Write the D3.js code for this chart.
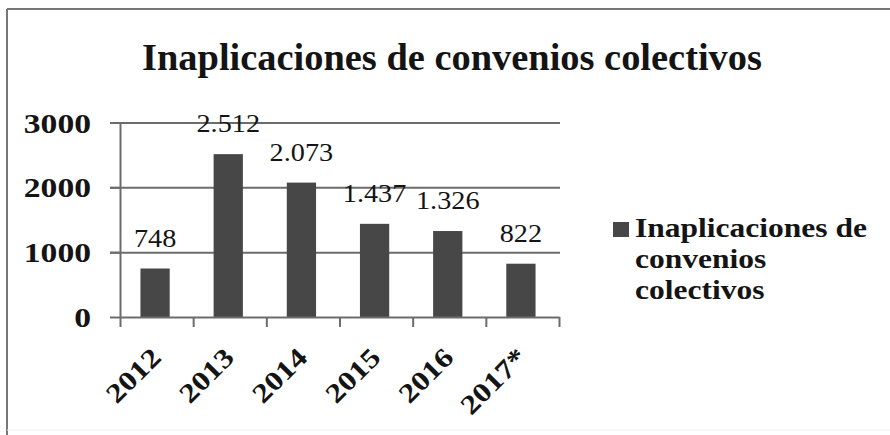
<!DOCTYPE html>
<html>
<head>
<meta charset="utf-8">
<script src="https://cdn.jsdelivr.net/npm/d3@7"></script>
<style>
  html, body { margin: 0; padding: 0; background: #fff; }
  svg { display: block; }
  text { font-family: "Liberation Serif", "Times New Roman", serif; fill: #141414; }
</style>
</head>
<body>
<svg id="chart" width="890" height="435"></svg>
<script>
// Chart data
const title = "Inaplicaciones de convenios colectivos";
const years = ["2012", "2013", "2014", "2015", "2016", "2017*"];
const values = [748, 2512, 2073, 1437, 1326, 822];
const yTicks = [0, 1000, 2000, 3000];
const legendLines = ["Inaplicaciones de", "convenios", "colectivos"];

const svg = d3.select("#chart");
const W = 890, H = 435;
const serif = "'Liberation Serif', 'Times New Roman', serif";

// Spanish number format: 2.512
const es = d3.formatLocale({ decimal: ",", thousands: ".", grouping: [3], currency: ["", " €"] });
const fmt = es.format(",");

// Horizontally widen text glyphs by a factor
function widen(sel, sx) {
  sel.each(function () {
    const w = this.getComputedTextLength();
    d3.select(this).attr("textLength", w * sx).attr("lengthAdjust", "spacingAndGlyphs");
  });
}

// Outer frame
svg.append("line").attr("x1", 7).attr("x2", 7).attr("y1", 9).attr("y2", H)
  .attr("stroke", "#777").attr("stroke-width", 2);
svg.append("line").attr("x1", 7).attr("x2", W).attr("y1", 9).attr("y2", 9)
  .attr("stroke", "#777").attr("stroke-width", 2);
svg.append("line").attr("x1", 7).attr("x2", W).attr("y1", 430).attr("y2", 430)
  .attr("stroke", "#eeeeee").attr("stroke-width", 1);

// Title
svg.append("text")
  .attr("x", 142).attr("y", 70)
  .attr("font-family", serif)
  .attr("font-size", 38).attr("font-weight", "bold")
  .attr("fill", "#0a0a0a")
  .attr("textLength", 620).attr("lengthAdjust", "spacingAndGlyphs")
  .text(title);

// Scales
const plot = { left: 120, right: 559, top: 122.5, bottom: 317 };
const x = d3.scaleBand().domain(years).range([plot.left, plot.right])
  .paddingInner(0.6).paddingOuter(0.3);
const y = d3.scaleLinear().domain([0, 3000]).range([plot.bottom, plot.top]);
const xEdges = d3.scaleLinear().domain([0, years.length]).range([plot.left, plot.right]);

const axisColor = "#6c6c6c";

// Horizontal gridlines (extend left through the tick marks)
const grid = svg.append("g").attr("transform", `translate(${plot.left},0)`)
  .call(d3.axisRight(y).tickValues(yTicks.filter(d => d > 0))
    .tickSize(plot.right + 1 - plot.left).tickFormat(""));
grid.select(".domain").remove();
grid.selectAll(".tick line").attr("stroke", axisColor).attr("stroke-width", 2)
  .attr("x1", -10);

// Bars
svg.append("g").selectAll("rect")
  .data(values)
  .join("rect")
  .attr("x", (d, i) => x(years[i]) - 1.5)
  .attr("y", d => y(d))
  .attr("width", x.bandwidth())
  .attr("height", d => y(0) - y(d))
  .attr("fill", "#474747");

// Y axis
const yAxis = svg.append("g").attr("transform", `translate(${plot.left},0)`)
  .call(d3.axisLeft(y).tickValues(yTicks).tickFormat(d3.format("d"))
    .tickSize(10).tickPadding(19).tickSizeOuter(0));
yAxis.select(".domain").attr("stroke", axisColor).attr("stroke-width", 2);
yAxis.selectAll(".tick line").attr("stroke", axisColor).attr("stroke-width", 2);
yAxis.selectAll(".tick text")
  .attr("font-family", serif)
  .attr("font-size", 28).attr("font-weight", "bold").attr("fill", "#1a1a1a")
  .attr("dy", "0.34em")
  .call(widen, 1.2);

// X axis: tick marks at category boundaries
const xTickAxis = svg.append("g").attr("transform", `translate(0,${plot.bottom})`)
  .call(d3.axisBottom(xEdges).tickValues(d3.range(years.length + 1)).tickSize(10).tickSizeOuter(0).tickFormat(""));
xTickAxis.select(".domain").attr("stroke", axisColor).attr("stroke-width", 2);
xTickAxis.selectAll(".tick line").attr("stroke", axisColor).attr("stroke-width", 2);

// X axis: category labels
const xLab = svg.append("g").attr("transform", `translate(0,${plot.bottom})`)
  .call(d3.axisBottom(x).tickSize(0));
xLab.select(".domain").remove();
xLab.selectAll(".tick text")
  .attr("font-family", serif)
  .attr("font-size", 27).attr("font-weight", "bold").attr("fill", "#1a1a1a")
  .attr("text-anchor", "end")
  .attr("x", 0).attr("y", 0).attr("dy", 0)
  .attr("transform", "translate(6,42) rotate(-45)")
  .call(widen, 1.2);

// Value labels
svg.append("g").selectAll("text")
  .data(values)
  .join("text")
  .attr("x", (d, i) => x(years[i]) + x.bandwidth() / 2 - 1.5)
  .attr("y", d => y(d) - 22)
  .attr("text-anchor", "middle")
  .attr("font-family", serif)
  .attr("font-size", 25).attr("fill", "#1a1a1a")
  .text(d => fmt(d))
  .call(widen, 1.13);

// Legend
const legend = svg.append("g");
legend.append("rect").attr("x", 613).attr("y", 222).attr("width", 16).attr("height", 15)
  .attr("fill", "#474747");
const legendText = legend.selectAll("text")
  .data(legendLines)
  .join("text")
  .attr("x", 635)
  .attr("y", (d, i) => 237 + i * 31)
  .attr("font-family", serif)
  .attr("font-size", 28).attr("font-weight", "bold").attr("fill", "#1a1a1a")
  .text(d => d);
const firstW = legendText.node().getComputedTextLength();
legendText.call(widen, 232 / firstW);
</script>
</body>
</html>
